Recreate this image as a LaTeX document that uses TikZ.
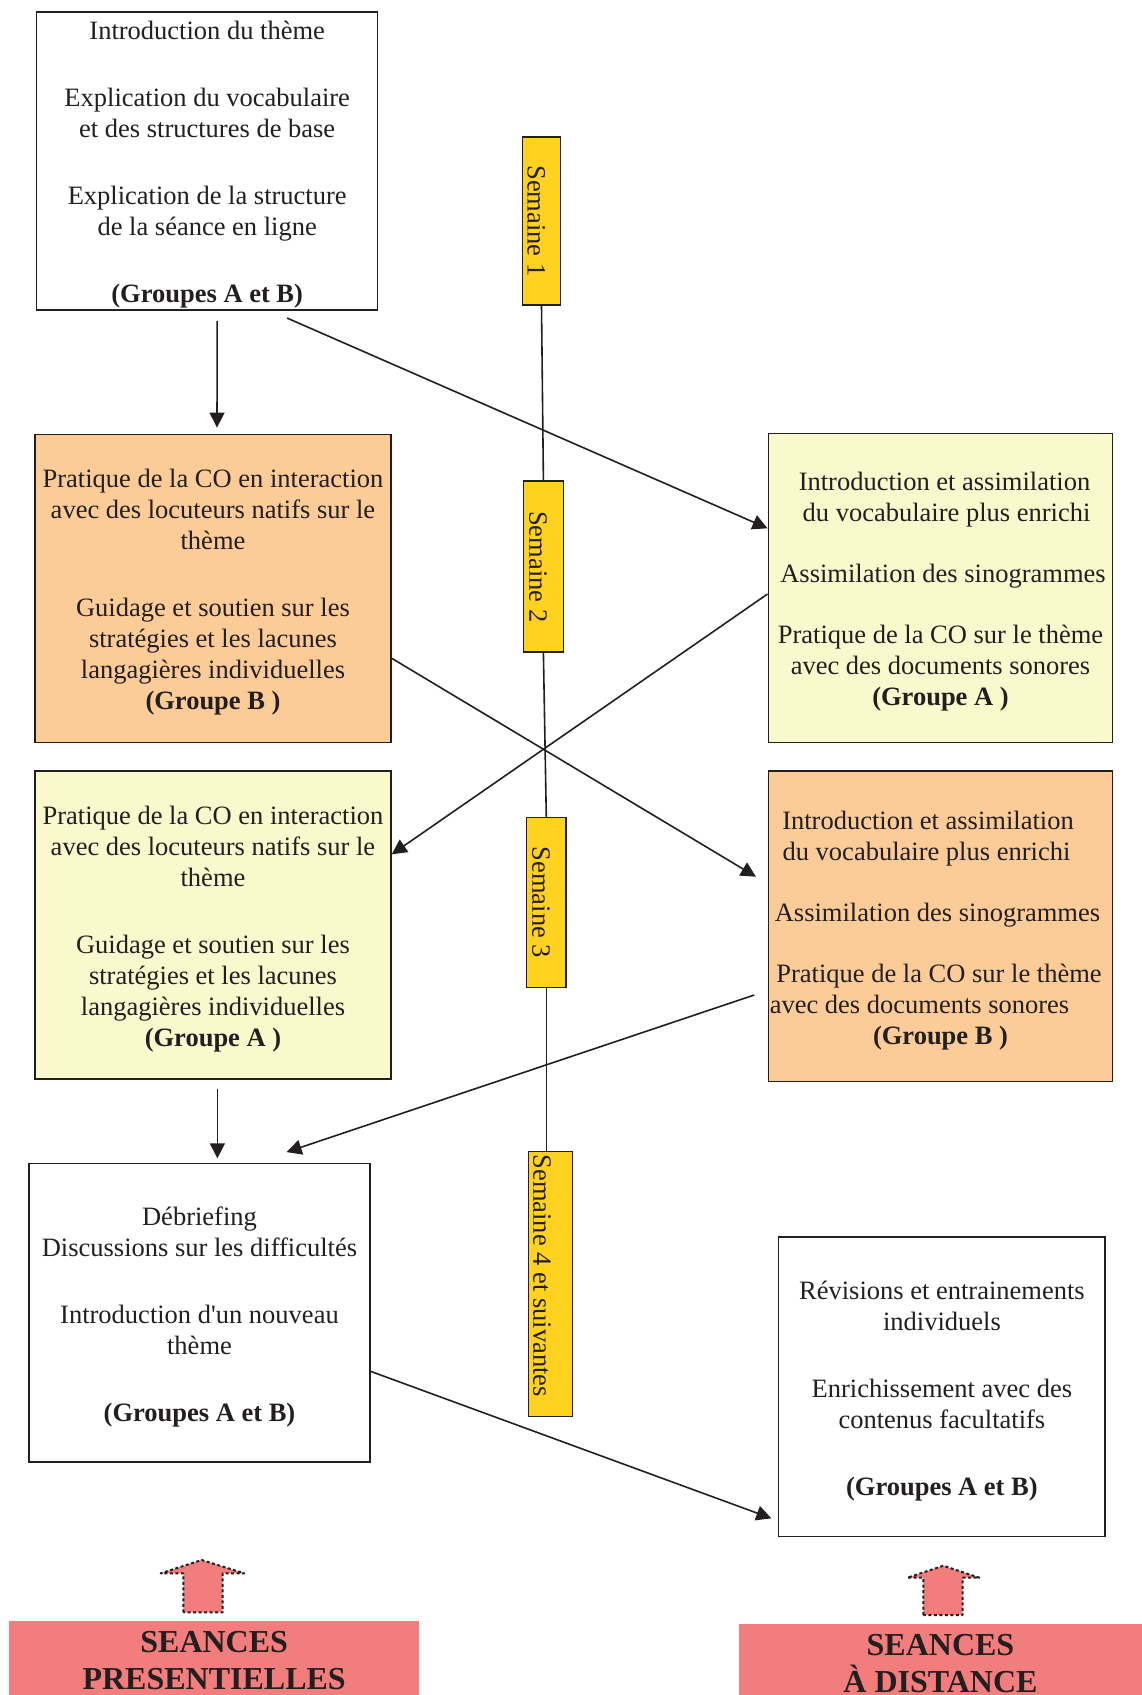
\documentclass[tikz,border=0pt]{standalone}
\usepackage{fontspec}
\setmainfont{Liberation Serif}
\usetikzlibrary{arrows.meta,calc}

\definecolor{ink}{RGB}{35,31,32}
\definecolor{peach}{RGB}{251,203,152}
\definecolor{cream}{RGB}{250,248,205}
\definecolor{gold}{RGB}{254,210,30}
\definecolor{salmon}{RGB}{242,125,125}

\newcommand{\topgap}{\rule{0pt}{26.5pt}}

\begin{document}
\begin{tikzpicture}[x=1pt,y=-1pt,
    box/.style={draw=ink,line width=1.5pt,align=center,text=ink,inner sep=0pt,
      font=\fontsize{26.5}{31}\selectfont},
    week/.style={draw=ink,line width=1.5pt,fill=gold,rotate=-90,inner sep=0pt,text=ink,
      font=\fontsize{26.5}{31}\selectfont,text height=28pt,text depth=0pt},
    arr/.style={draw=ink,line width=1.6pt,-{Triangle[length=15pt,width=15pt]}},
    link/.style={draw=ink,line width=1.6pt},
    banner/.style={fill=salmon,align=center,text=ink,inner sep=0pt,anchor=north west,
      minimum height=78,font=\fontsize{32}{37}\selectfont\bfseries},
    upmark/.style={draw=ink,fill=salmon,line width=2pt,line join=round,
      dash pattern=on 3pt off 2.5pt}]

\useasboundingbox (0,0) rectangle (1142,1695);

% face-to-face sessions (left)
\node[box,minimum width=341,minimum height=298.3] (b1) at (207.2,160.9)
  {\topgap Introduction du thème\\[36pt]
   Explication du vocabulaire\\et des structures de base\\[36pt]
   Explication de la structure\\de la séance en ligne\\[36pt]
   \textbf{(Groupes A et B)}};
\node[box,fill=peach,minimum width=356,minimum height=308.4] (b2) at (213,588.5)
  {\topgap Pratique de la CO en interaction\\avec des locuteurs natifs sur le\\thème\\[36pt]
   Guidage et soutien sur les\\stratégies et les lacunes\\langagières individuelles\\
   \textbf{(Groupe B )}};
\node[box,fill=cream,minimum width=356,minimum height=308] (b4) at (213,925)
  {\topgap Pratique de la CO en interaction\\avec des locuteurs natifs sur le\\thème\\[36pt]
   Guidage et soutien sur les\\stratégies et les lacunes\\langagières individuelles\\
   \textbf{(Groupe A )}};
\node[box,minimum width=340.6,minimum height=298.5] (b6) at (199.5,1312.9)
  {\topgap Débriefing\\Discussions sur les difficultés\\[36pt]
   Introduction d\textquotesingle un nouveau\\thème\\[36pt]
   \textbf{(Groupes A et B)}};

% distance sessions (right)
\node[box,fill=cream,minimum width=344.4,minimum height=309.4] (b3) at (940.5,588)
  {\hspace*{8pt}\topgap Introduction et assimilation\\
   \hspace*{12pt}du vocabulaire plus enrichi\\[30pt]
   \hspace*{5pt}Assimilation des sinogrammes\\[30pt]
   Pratique de la CO sur le thème\\avec des documents sonores\\
   \textbf{(Groupe A )}};
\node[box,fill=peach,minimum width=344.4,minimum height=310.7] (b5) at (940.5,926.3)
  {\hspace*{-25pt}\topgap Introduction et assimilation\\
   \hspace*{-28pt}du vocabulaire plus enrichi\\[30pt]
   \hspace*{-6pt}Assimilation des sinogrammes\\[30pt]
   \hspace*{-3pt}Pratique de la CO sur le thème\\
   \hspace*{-42pt}avec des documents sonores\\
   \textbf{(Groupe B )}};
\node[box,minimum width=326.6,minimum height=299.6] (b7) at (941.9,1386.9)
  {\topgap Révisions et entrainements\\individuels\\[36pt]
   Enrichissement avec des\\contenus facultatifs\\[36pt]
   \textbf{(Groupes A et B)}};

% weeks
\node[week,minimum width=168.3,minimum height=38.4] (w1) at (541.5,220.9) {Semaine 1};
\node[week,minimum width=171,minimum height=40] (w2) at (543.4,566.7) {Semaine 2};
\node[week,minimum width=169.8,minimum height=39.3] (w3) at (546.3,902.4) {Semaine 3};
\node[week,minimum width=265,minimum height=44.4,text height=34.4pt] (w4) at (550.5,1284.2)
  {Semaine 4 et suivantes\hspace*{17pt}};

\draw[link] (w1.east) -- (w2.west);
\draw[link] (w2.east) -- (w3.west);
\draw[link] (w3.east) -- (w3.east |- w4.west);

% arrows
\draw[arr] ($(b1.south)+(10,10)$) -- ($(b2.north)+(4,-6)$);
\draw[arr] ($(b1.south)+(80,7.3)$) -- ($(b3.west)+(0,-59.7)$);
\draw[arr] ($(b3.west)+(0,6)$) -- ($(b4.east)+(0,-70.7)$);
\draw[arr] ($(b2.east)+(0,69.8)$) -- ($(b5.west)+(-11.6,-49.6)$);
\draw[arr] ($(b4.south)+(4.4,9)$) -- ($(b6.north)+(17.9,-4.6)$);
\draw[arr] ($(b5.west)+(-13.3,68.7)$) -- ($(b6.north)+(87.1,-10.8)$);
\draw[arr] ($(b6.east)+(0,58.4)$) -- ($(b7.west)+(-6.5,131.4)$);

% bottom labels
\draw[upmark] (183.3,1612.3) -- (183.3,1573.3) -- (160.7,1573.3) -- (201.7,1560)
  -- (244.3,1573.3) -- (222.7,1573.3) -- (222.7,1612.3) -- cycle;
\draw[upmark] (923.3,1615) -- (923.3,1577.7) -- (907.3,1577.7) -- (943.3,1565.7)
  -- (979.3,1577.7) -- (962.7,1577.7) -- (962.7,1615) -- cycle;

\node[banner,minimum width=410] (pres) at (9,1621) {SEANCES\\PRESENTIELLES};
\node[banner,minimum width=404] (dist) at (738.3,1624) {SEANCES\\À DISTANCE};
\end{tikzpicture}
\end{document}
